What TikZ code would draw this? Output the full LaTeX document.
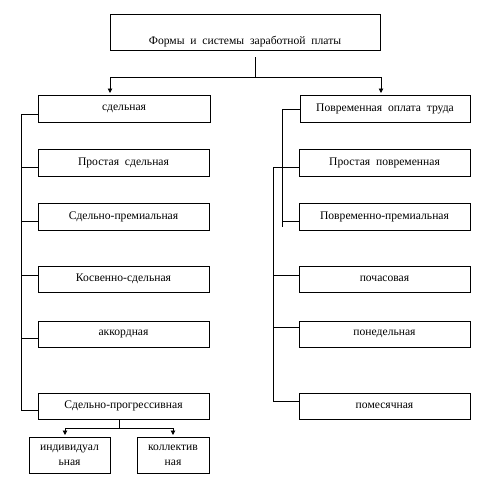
\documentclass[tikz,border=0pt]{standalone}
\usepackage{fontspec}
\setmainfont{Liberation Serif}
\usetikzlibrary{arrows.meta}
\begin{document}
\begin{tikzpicture}[x=1pt,y=-1pt,
  box/.style={draw, line width=0.9pt, inner sep=0pt, outer sep=0pt, font=\fontsize{11.6}{15}\selectfont},
  ln/.style={line width=0.9pt},
  arr/.style={line width=0.9pt, -{Triangle[width=4.5pt,length=4.5pt]}, shorten >=2pt}]
\useasboundingbox (0,0) rectangle (487,485);
% top
\node[box, minimum width=270pt, minimum height=36pt] (top) at (245,32) {};
\node[font=\fontsize{11.6}{15}\selectfont, anchor=base] (title) at (245,44) {Формы\ \ и\ \ системы\ \ заработной\ \ платы};
% left column
\node[box, minimum width=172pt, minimum height=27pt] (s0) at (124,108.5) {сдельная};
\node[box, minimum width=171pt, minimum height=27pt] (s1) at (123.5,162.5) {Простая\ \ сдельная};
\node[box, minimum width=171pt, minimum height=27pt] (s2) at (123.5,216.5) {Сдельно-премиальная};
\node[box, minimum width=171pt, minimum height=26pt] (s3) at (123.5,279) {Косвенно-сдельная};
\node[box, minimum width=171pt, minimum height=26pt] (s4) at (123.5,334) {аккордная};
\node[box, minimum width=171pt, minimum height=26pt] (s5) at (123.5,406) {Сдельно-прогрессивная};
\node[box, minimum width=81pt, minimum height=36pt, align=center] (s6) at (69.5,455) {индивидуал\\ьная};
\node[box, minimum width=72pt, minimum height=36pt, align=center] (s7) at (173,455) {коллектив\\ная};
% right column
\node[box, minimum width=170pt, minimum height=27pt] (p0) at (385,108.5) {Повременная\ \ оплата\ \ труда};
\node[box, minimum width=171pt, minimum height=27pt] (p1) at (384.5,162.5) {Простая\ \ повременная};
\node[box, minimum width=171pt, minimum height=27pt] (p2) at (384.5,216.5) {Повременно-премиальная};
\node[box, minimum width=171pt, minimum height=26pt] (p3) at (384.5,279) {почасовая};
\node[box, minimum width=171pt, minimum height=26pt] (p4) at (384.5,334) {понедельная};
\node[box, minimum width=171pt, minimum height=26pt] (p5) at (384.5,406) {помесячная};
% top connectors
\coordinate (tj) at (255,77);
\draw[ln] (255,57) -- (tj);
\draw[ln] (110,77) -- (381,77);
\draw[arr] (110,77) -- (110,95);
\draw[arr] (381,77) -- (381,95);
% left trunk
\draw[ln] ([yshift=-19pt]s0.north west) -- (21,114) -- (21,410) -- ([yshift=-17pt]s5.north west);
\draw[ln] ([yshift=-18pt]s1.north west) -- ++(-17,0);
\draw[ln] ([yshift=-18pt]s2.north west) -- ++(-17,0);
\draw[ln] ([yshift=-9pt]s3.north west) -- ++(-17,0);
\draw[ln] ([yshift=-17pt]s4.north west) -- ++(-17,0);
% bottom split
\draw[ln] (119,419) -- (119,428);
\draw[ln] (65,428) -- (173,428);
\draw[arr] (65,428) -- (s6.north -| 65,0);
\draw[arr] (173,428) -- (s7.north);
% right trunks
\draw[ln] ([yshift=-14pt]p0.north west) -- (282,109) -- (282,227);
\draw[ln] ([yshift=-18pt]p2.north west) -- (282,221);
\draw[ln] ([yshift=-18pt]p1.north west) -- (273,167) -- (273,401) -- ([yshift=-8pt]p5.north west);
\draw[ln] ([yshift=-9pt]p3.north west) -- ++(-26,0);
\draw[ln] ([yshift=-6pt]p4.north west) -- ++(-26,0);
\end{tikzpicture}
\end{document}
